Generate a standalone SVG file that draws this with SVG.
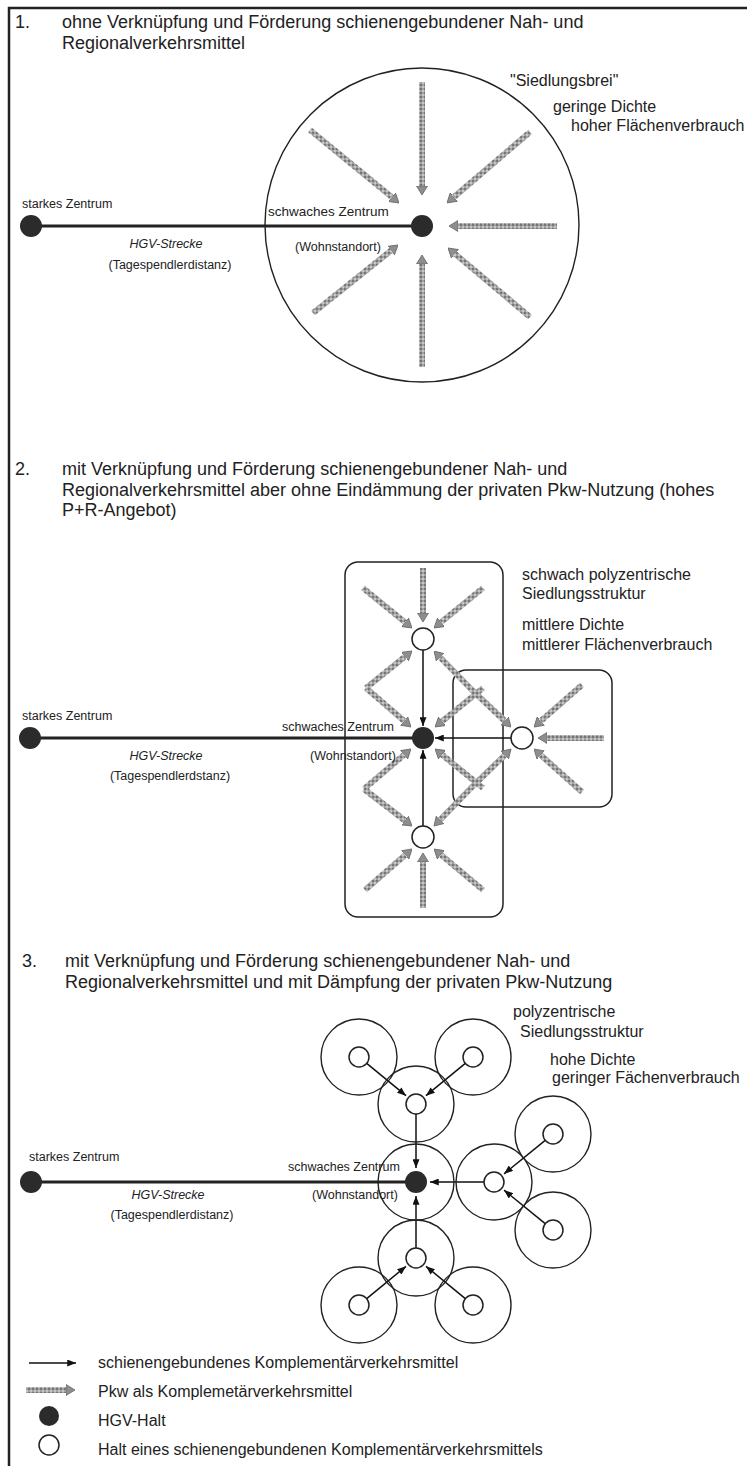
<svg xmlns="http://www.w3.org/2000/svg" width="747" height="1466" viewBox="0 0 747 1466">
<defs>
<style>
.t{font-family:"Liberation Sans",Arial,sans-serif;fill:#222}
.title{font-size:18px}
.lbl{font-size:12.5px}
.lbl2{font-size:13.5px}
.side{font-size:16px}
.leg{font-size:16px}
.it{font-style:italic}
.mid{text-anchor:middle}
.car line{stroke:url(#speck);stroke-width:6;marker-end:url(#gh)}
.rail line{stroke:#111;stroke-width:1.5;marker-end:url(#bh)}
.hgv{stroke:#222;stroke-width:3}
.dark{fill:#2b2b2b}
.white{fill:#fff;stroke:#222;stroke-width:1.5}
.ring{fill:none;stroke:#222;stroke-width:1.4}
.box{fill:none;stroke:#222;stroke-width:1.5}
</style>
<pattern id="speck" width="4" height="4" patternUnits="userSpaceOnUse">
<rect width="4" height="4" fill="#a2a2a2"/>
<rect width="2" height="2" fill="#777"/>
<rect x="2" y="2" width="2" height="2" fill="#c6c6c6"/>
</pattern>
<marker id="gh" viewBox="0 0 9 12" refX="0" refY="6" markerWidth="9" markerHeight="12" markerUnits="userSpaceOnUse" orient="auto">
<path d="M0,0.5 L9,6 L0,11.5 Z" fill="#8e8e8e" stroke="#666" stroke-width="0.8"/>
</marker>
<marker id="bh" viewBox="0 0 10 8" refX="10" refY="4" markerWidth="9" markerHeight="7" markerUnits="userSpaceOnUse" orient="auto">
<path d="M0,0 L10,4 L0,8 Z" fill="#111"/>
</marker>
</defs>
<rect width="747" height="1466" fill="#fff"/>
<g id="frame"><rect x="9" y="8" width="760" height="1480" fill="none" stroke="#222" stroke-width="2.5"/></g>

<!-- Section 1 -->
<g id="s1-title" class="t title">
<text x="15" y="28">1.</text>
<text x="62" y="28">ohne Verknüpfung und Förderung schienengebundener Nah- und</text>
<text x="62" y="48.5">Regionalverkehrsmittel</text>
</g>
<g id="s1-siedlungsbrei">
<circle class="ring" cx="422" cy="225" r="157"/>
<g class="t side">
<text x="510" y="86">"Siedlungsbrei"</text>
<text x="553" y="112">geringe Dichte</text>
<text x="571" y="131">hoher Flächenverbrauch</text>
</g>
</g>
<g id="s1-connectors">
<line class="hgv" x1="31" y1="226" x2="422" y2="226"/>
<g class="t lbl"><text class="it mid" x="166" y="248">HGV-Strecke</text><text class="mid" x="170" y="269">(Tagespendlerdistanz)</text></g>
<g class="car">
<line x1="422" y1="82" x2="422" y2="186"/>
<line x1="530" y1="132" x2="453.8" y2="197.1"/>
<line x1="557" y1="226" x2="458" y2="226"/>
<line x1="530" y1="317" x2="454.9" y2="253.8"/>
<line x1="422" y1="367" x2="422" y2="264"/>
<line x1="313" y1="313" x2="391" y2="250.6"/>
<line x1="310" y1="130" x2="392" y2="197.3"/>
</g>
</g>
<g id="s1-starkes-zentrum">
<circle class="dark" cx="31" cy="226" r="11"/>
<text class="t lbl" x="22" y="208">starkes Zentrum</text>
</g>
<g id="s1-schwaches-zentrum">
<circle class="dark" cx="422" cy="226" r="11"/>
<text class="t lbl2" x="268" y="216">schwaches Zentrum</text>
<text class="t lbl" x="295" y="251">(Wohnstandort)</text>
</g>

<!-- Section 2 -->
<g id="s2-title" class="t title">
<text x="15" y="475">2.</text>
<text x="62" y="475">mit Verknüpfung und Förderung schienengebundener Nah- und</text>
<text x="62" y="495.5">Regionalverkehrsmittel aber ohne Eindämmung der privaten Pkw-Nutzung (hohes</text>
<text x="62" y="516">P+R-Angebot)</text>
</g>
<g id="s2-structure">
<rect class="box" x="345" y="562" width="158" height="355" rx="13"/>
<rect class="box" x="453" y="670" width="159" height="137" rx="13"/>
<g class="t side">
<text x="522" y="580">schwach polyzentrische</text>
<text x="522" y="599">Siedlungsstruktur</text>
<text x="522" y="630">mittlere Dichte</text>
<text x="522" y="650">mittlerer Flächenverbrauch</text>
</g>
</g>
<g id="s2-connectors">
<line class="hgv" x1="30" y1="738" x2="423" y2="738"/>
<g class="t lbl"><text class="it mid" x="166" y="760">HGV-Strecke</text><text class="mid" x="170" y="780">(Tagespendlerdstanz)</text></g>
<g class="car">
<line x1="423" y1="568" x2="423" y2="613"/>
<line x1="363" y1="588" x2="405" y2="622.3"/>
<line x1="483" y1="588" x2="441" y2="622.3"/>
<line x1="366" y1="688" x2="405" y2="656.6"/>
<line x1="471" y1="689" x2="440.3" y2="657.5"/>
<line x1="366" y1="688" x2="404.2" y2="721.1"/>
<line x1="483" y1="688" x2="442" y2="721.3"/>
<line x1="364" y1="789" x2="404.1" y2="754.8"/>
<line x1="483" y1="788" x2="442" y2="754.7"/>
<line x1="364" y1="789" x2="404.9" y2="820.5"/>
<line x1="472" y1="787" x2="440.3" y2="819.6"/>
<line x1="365" y1="890" x2="405.2" y2="854.9"/>
<line x1="423" y1="908" x2="423" y2="862"/>
<line x1="483" y1="890" x2="440.9" y2="854.8"/>
<line x1="471" y1="689" x2="504.5" y2="720.8"/>
<line x1="582" y1="685" x2="540.8" y2="721.1"/>
<line x1="604" y1="738" x2="547" y2="738"/>
<line x1="582" y1="792" x2="540.7" y2="755"/>
<line x1="472" y1="787" x2="504.6" y2="755.3"/>
</g>
<g class="rail">
<line x1="423" y1="650" x2="423" y2="726"/>
<line x1="423" y1="826" x2="423" y2="750"/>
<line x1="511" y1="738" x2="435" y2="738"/>
</g>
</g>
<g id="s2-starkes-zentrum">
<circle class="dark" cx="30" cy="738" r="11"/>
<text class="t lbl" x="22" y="720">starkes Zentrum</text>
</g>
<g id="s2-schwaches-zentrum">
<circle class="dark" cx="423" cy="738" r="11"/>
<text class="t lbl" x="282" y="731">schwaches Zentrum</text>
<text class="t lbl" x="310" y="760">(Wohnstandort)</text>
</g>
<g id="s2-halt-oben"><circle class="white" cx="423" cy="639" r="11"/></g>
<g id="s2-halt-unten"><circle class="white" cx="423" cy="837" r="11"/></g>
<g id="s2-halt-rechts"><circle class="white" cx="522" cy="738" r="11"/></g>

<!-- Section 3 -->
<g id="s3-title" class="t title">
<text x="22" y="967">3.</text>
<text x="65" y="967">mit Verknüpfung und Förderung schienengebundener Nah- und</text>
<text x="65" y="987.5">Regionalverkehrsmittel und mit Dämpfung der privaten Pkw-Nutzung</text>
</g>
<g id="s3-labels" class="t side">
<text x="513" y="1017">polyzentrische</text>
<text x="520" y="1037">Siedlungsstruktur</text>
<text x="550" y="1065">hohe Dichte</text>
<text x="552" y="1083">geringer Fächenverbrauch</text>
</g>
<g id="s3-connectors">
<line class="hgv" x1="31" y1="1182" x2="416" y2="1182"/>
<g class="t lbl"><text class="it mid" x="168" y="1199">HGV-Strecke</text><text class="mid" x="172" y="1219">(Tagespendlerdistanz)</text></g>
<g class="rail">
<line x1="366.7" y1="1063.4" x2="406" y2="1095.7"/>
<line x1="465.3" y1="1063.4" x2="426" y2="1095.7"/>
<line x1="416" y1="1114" x2="416" y2="1168"/>
<line x1="484" y1="1182" x2="430" y2="1182"/>
<line x1="545.2" y1="1140.3" x2="504.1" y2="1173.8"/>
<line x1="545.2" y1="1223.7" x2="504.1" y2="1190.2"/>
<line x1="416" y1="1248" x2="416" y2="1196"/>
<line x1="366.7" y1="1298.6" x2="406" y2="1266.3"/>
<line x1="465.3" y1="1298.6" x2="426" y2="1266.3"/>
</g>
</g>
<g id="s3-starkes-zentrum">
<circle class="dark" cx="31" cy="1182" r="11"/>
<text class="t lbl" x="29" y="1161">starkes Zentrum</text>
</g>
<g id="s3-schwaches-zentrum">
<circle class="ring" cx="416" cy="1182" r="38"/>
<circle class="dark" cx="416" cy="1182" r="11"/>
<text class="t lbl" x="288" y="1171">schwaches Zentrum</text>
<text class="t lbl" x="312" y="1199">(Wohnstandort)</text>
</g>
<g id="s3-halt-um"><circle class="ring" cx="416" cy="1104" r="38"/><circle class="white" cx="416" cy="1104" r="10"/></g>
<g id="s3-halt-ul"><circle class="ring" cx="359" cy="1057" r="38"/><circle class="white" cx="359" cy="1057" r="10"/></g>
<g id="s3-halt-ur"><circle class="ring" cx="473" cy="1057" r="38"/><circle class="white" cx="473" cy="1057" r="10"/></g>
<g id="s3-halt-r"><circle class="ring" cx="494" cy="1182" r="38"/><circle class="white" cx="494" cy="1182" r="10"/></g>
<g id="s3-halt-ro"><circle class="ring" cx="553" cy="1134" r="38"/><circle class="white" cx="553" cy="1134" r="10"/></g>
<g id="s3-halt-ru"><circle class="ring" cx="553" cy="1230" r="38"/><circle class="white" cx="553" cy="1230" r="10"/></g>
<g id="s3-halt-bm"><circle class="ring" cx="416" cy="1258" r="38"/><circle class="white" cx="416" cy="1258" r="10"/></g>
<g id="s3-halt-bl"><circle class="ring" cx="359" cy="1305" r="38"/><circle class="white" cx="359" cy="1305" r="10"/></g>
<g id="s3-halt-br"><circle class="ring" cx="473" cy="1305" r="38"/><circle class="white" cx="473" cy="1305" r="10"/></g>

<!-- Legend -->
<g id="legend">
<g class="rail"><line x1="29" y1="1363" x2="76" y2="1363"/></g>
<g class="car"><line x1="26" y1="1390" x2="66" y2="1390"/></g>
<circle class="dark" cx="49" cy="1416" r="10"/>
<circle class="white" cx="49" cy="1445" r="10"/>
<g class="t leg">
<text x="98" y="1368">schienengebundenes Komplementärverkehrsmittel</text>
<text x="98" y="1397">Pkw als Komplemetärverkehrsmittel</text>
<text x="98" y="1426">HGV-Halt</text>
<text x="98" y="1455">Halt eines schienengebundenen Komplementärverkehrsmittels</text>
</g>
</g>
</svg>
